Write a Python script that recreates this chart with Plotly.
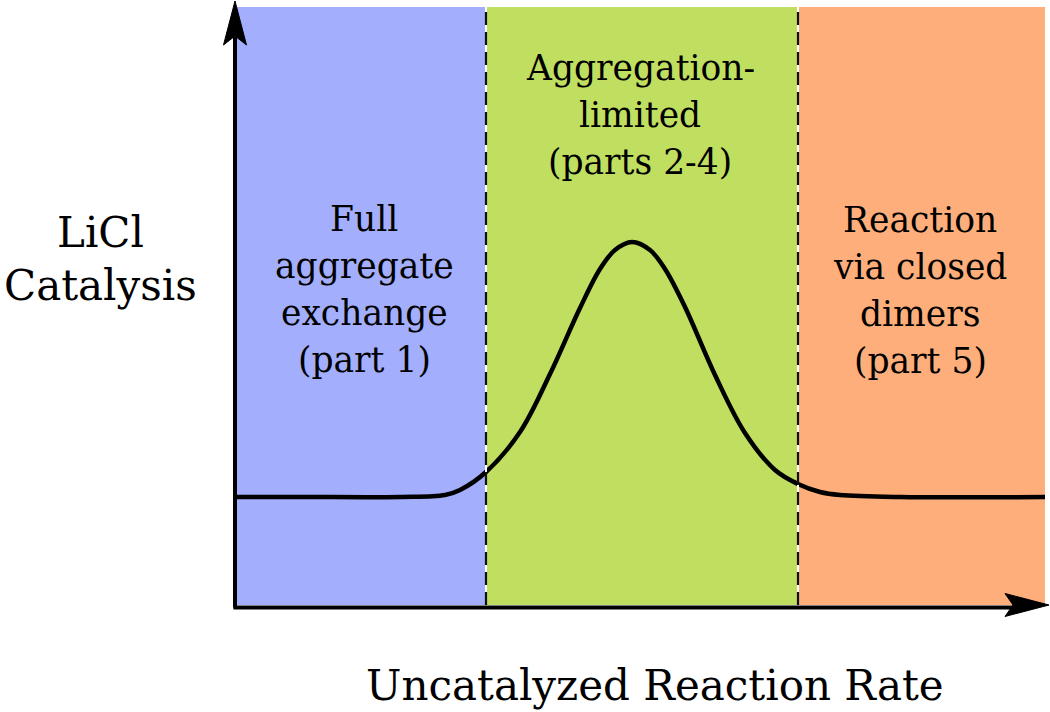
import plotly.graph_objects as go

# Data (x: uncatalyzed rate, arbitrary units; y: LiCl catalysis, arbitrary units)
curve_x = [0, 65, 165, 210, 225, 251, 285, 315, 345, 365, 380, 397, 415, 430, 450, 480, 510, 540, 563, 585, 605, 665, 810]
curve_y = [108, 108, 108, 110, 115, 133, 173, 231, 297, 336, 355, 363, 355, 336, 298, 230, 172, 135, 121, 113, 110, 108, 108]

region_bounds = [0, 251, 563, 810]
region_colors = ["#a3aefc", "#c0df60", "#fdae7a"]
region_lines = [
    ["Full", "aggregate", "exchange", "(part 1)"],
    ["Aggregation-", "limited", "(parts 2-4)"],
    ["Reaction", "via closed", "dimers", "(part 5)"],
]
y_top = 598

x_title = "Uncatalyzed Reaction Rate"
y_title_lines = ["LiCl", "Catalysis"]

FONT = "DejaVu Serif"
LABEL_SIZE = 34.5
TITLE_SIZE = 42

# layout helpers (pixel positions in the 1050x712 page)
PL, PR, PT, PB = 235, 1045, 7, 605


def px2paper(px, py):
    return (px - PL) / (PR - PL), (PB - py) / (PB - PT)


fig = go.Figure()

shapes = []
for i in range(3):
    shapes.append(dict(type="rect", xref="x", yref="y", x0=region_bounds[i], x1=region_bounds[i + 1],
                       y0=0, y1=y_top, fillcolor=region_colors[i], line_width=0, layer="below"))
for b in region_bounds[1:3]:
    shapes.append(dict(type="line", xref="x", yref="y", x0=b, x1=b, y0=0, y1=y_top,
                       line=dict(color="white", width=2)))
    shapes.append(dict(type="line", xref="x", yref="y", x0=b, x1=b, y0=0, y1=y_top,
                       line=dict(color="#111", width=2.2, dash="13px,7px")))

fig.add_trace(go.Scatter(x=curve_x, y=curve_y, mode="lines",
                         line=dict(color="black", width=4.5, shape="spline", smoothing=1.0),
                         hoverinfo="skip", showlegend=False))

# axis lines
shapes.append(dict(type="line", xref="paper", yref="paper", x0=0, x1=0, y0=-0.004, y1=0.95,
                   line=dict(color="black", width=4)))
shapes.append(dict(type="line", xref="paper", yref="paper", x0=-0.002, x1=0.97, y0=-0.004, y1=-0.004,
                   line=dict(color="black", width=4)))


def path(points):
    s = ""
    for k, (a, b) in enumerate(points):
        xx, yy = px2paper(a, b)
        s += ("M" if k == 0 else "L") + f"{xx:.5f},{yy:.5f} "
    return s + "Z"


shapes.append(dict(type="path", xref="paper", yref="paper",
                   path=path([(235, 1), (246.5, 45), (235, 36), (223.5, 45)]),
                   fillcolor="black", line=dict(color="black", width=1)))
shapes.append(dict(type="path", xref="paper", yref="paper",
                   path=path([(1049, 605), (1005, 593.5), (1013, 605), (1005, 616.5)]),
                   fillcolor="black", line=dict(color="black", width=1)))

annotations = []


def add_text(text, px, py_center, size):
    xx, yy = px2paper(px, py_center)
    annotations.append(dict(x=xx, y=yy, xref="paper", yref="paper", text=text, showarrow=False,
                            xanchor="center", yanchor="middle",
                            font=dict(family=FONT, size=size, color="black")))


label_centers_px = [364, 640, 920]
label_first_line_px = [219, 68, 220]
label_step = 47
for i, lines in enumerate(region_lines):
    for j, t in enumerate(lines):
        add_text(t, label_centers_px[i], label_first_line_px[i] + j * label_step, LABEL_SIZE)

add_text(y_title_lines[0], 100, 233, TITLE_SIZE)
add_text(y_title_lines[1], 100, 285, TITLE_SIZE)
add_text(x_title, 655, 685, TITLE_SIZE)

fig.update_layout(
    width=1050, height=712,
    margin=dict(l=PL, r=1050 - PR, t=PT, b=712 - PB),
    paper_bgcolor="white", plot_bgcolor="white",
    xaxis=dict(range=[0, 810], visible=False, fixedrange=True),
    yaxis=dict(range=[0, y_top], visible=False, fixedrange=True),
    shapes=shapes, annotations=annotations, showlegend=False,
)

fig.write_html("out.html", config={"displayModeBar": False},
               post_script="document.body.style.margin='0';document.body.style.overflow='hidden';")
